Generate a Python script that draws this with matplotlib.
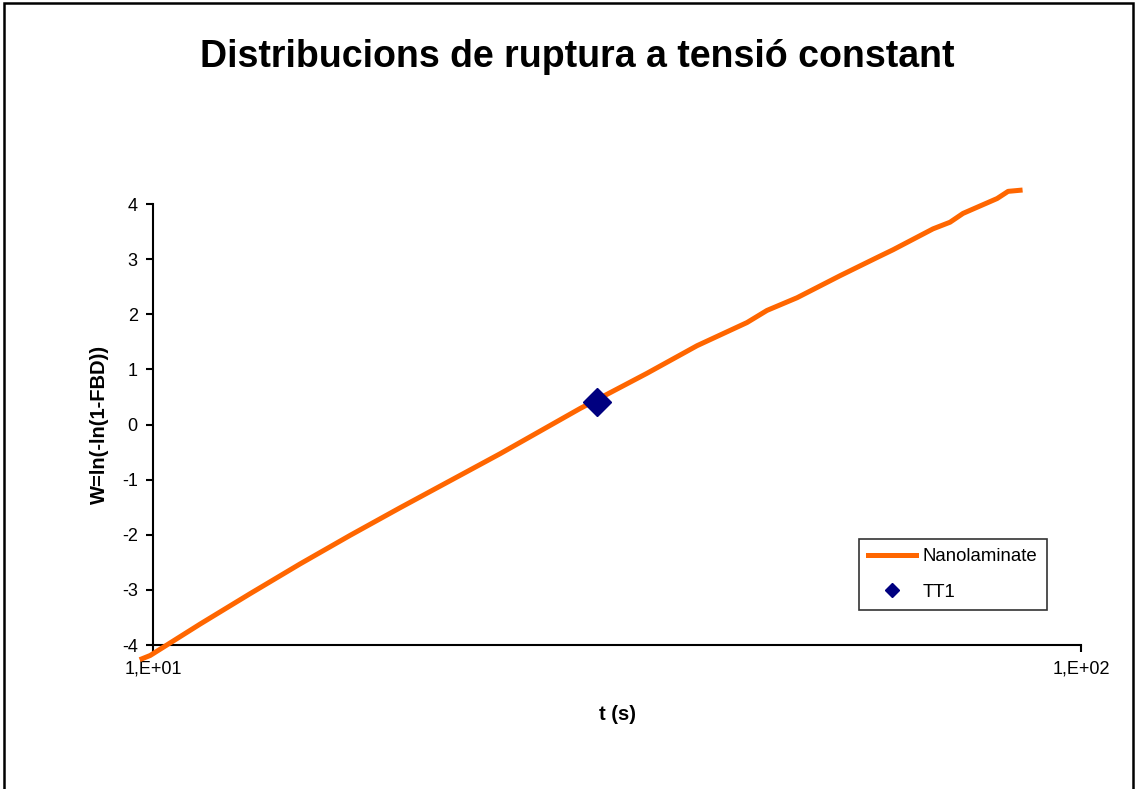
import matplotlib
matplotlib.use("Agg")
import matplotlib.pyplot as plt
from matplotlib.patches import Rectangle
from matplotlib.ticker import FixedLocator, NullLocator

plt.rcParams['font.family'] = ['Liberation Sans', 'DejaVu Sans']
plt.rcParams['axes.unicode_minus'] = False

# Corba Weibull (llegida del gràfic)
t_nano = [9.73, 9.93, 11.24, 12.72, 14.40, 16.31, 18.46, 20.90, 23.66, 28.85,
          34.07, 38.57, 43.66, 45.88, 49.43, 55.00, 60.29, 62.72, 69.27, 72.25,
          74.62, 81.21, 83.45, 85.97]
w_nano = [-4.25, -4.19, -3.62, -3.07, -2.53, -2.01, -1.51, -1.02, -0.53, 0.29,
          0.93, 1.43, 1.85, 2.07, 2.30, 2.70, 3.03, 3.17, 3.55, 3.67,
          3.83, 4.10, 4.23, 4.25]

# Punt experimental
t_tt1 = [30.1]
w_tt1 = [0.40]

x_ticks = [10, 100]
x_ticklabels = ['1,E+01', '1,E+02']
y_ticks = [-4, -3, -2, -1, 0, 1, 2, 3, 4]

fig = plt.figure(figsize=(11.36, 7.89), dpi=100)
ax = fig.add_axes([0.1347, 0.1825, 0.8169, 0.5589])

ax.plot(t_nano, w_nano, color='#FF6600', linewidth=3.6, label='Nanolaminate',
        clip_on=False, zorder=3)
ax.plot(t_tt1, w_tt1, linestyle='none', marker='D', markersize=14,
        color='#000080', label='TT1', zorder=4)

ax.set_xscale('log')
ax.set_xlim(10, 100)
ax.set_ylim(-4, 4)
ax.xaxis.set_major_locator(FixedLocator(x_ticks))
ax.xaxis.set_minor_locator(NullLocator())
ax.set_xticklabels(x_ticklabels)
ax.set_yticks(y_ticks)

for side in ['top', 'right']:
    ax.spines[side].set_visible(False)
for side in ['left', 'bottom']:
    ax.spines[side].set_linewidth(1.5)
ax.tick_params(direction='out', length=5, width=1.5, labelsize=13, pad=6)

ax.set_xlabel('t (s)', fontsize=14.5, fontweight='bold', labelpad=20)
ax.set_ylabel('W=ln(-ln(1-FBD))', fontsize=14.5, fontweight='bold', labelpad=9)

fig.text(0.508, 0.928, 'Distribucions de ruptura a tensió constant',
         ha='center', va='center', fontsize=27, fontweight='bold')

leg = ax.legend(loc='lower right', bbox_to_anchor=(0.9634, 0.079), fontsize=13.4,
                frameon=True, fancybox=False, edgecolor='black',
                markerscale=0.5, handlelength=2.6, handletextpad=0.35,
                borderpad=0.5, labelspacing=1.0, borderaxespad=0)
leg.get_frame().set_linewidth(1.2)

# marc del gràfic
fig.patches.append(Rectangle((0.0035, -0.05), 0.9935, 1.046, transform=fig.transFigure,
                             fill=False, edgecolor='black', linewidth=1.8))

fig.savefig('out.png', dpi=100)
